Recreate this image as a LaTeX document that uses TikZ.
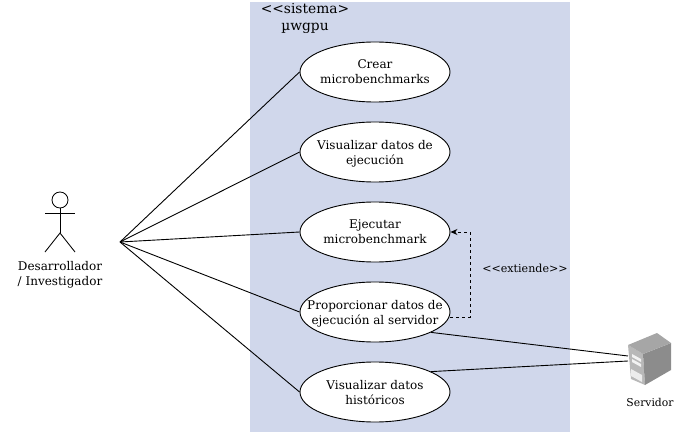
\documentclass[tikz,border=0pt]{standalone}
\usepackage{fontspec}
\setmainfont{DejaVu Serif}
\usetikzlibrary{shapes.geometric,arrows.meta}
\definecolor{sysblue}{RGB}{208,215,235}

\begin{document}
\begin{tikzpicture}[x=1pt,y=-1pt,
    usecase/.style={ellipse,draw,line width=0.9pt,fill=white,minimum width=150pt,minimum height=60pt,inner xsep=-30pt,inner ysep=-12pt,align=center,text depth=-2pt,font=\fontsize{12}{15}\selectfont},
    caption/.style={align=center,inner sep=0pt,font=\fontsize{12}{14.5}\selectfont},
    link/.style={line width=0.9pt},
    limb/.style={line width=0.85pt}]
    \useasboundingbox (0,0) rectangle (680,433);

    % System
    \fill[sysblue] (250,2) rectangle (570,432);
    \node[inner sep=0pt,align=center,font=\fontsize{13.8}{17}\selectfont] (sistema) at (305,18) {{<}{<}sistema>\\µwgpu};

    % Use cases
    \coordinate (hub) at (120,242);
    \node[usecase] (crear) at (375,72) {Crear\\microbenchmarks};
    \node[usecase] (visualizar) at (375,152) {Visualizar datos de\\ejecución};
    \node[usecase] (ejecutar) at (375,232) {Ejecutar\\microbenchmark};
    \node[usecase] (proporcionar) at (375,312) {Proporcionar datos de\\ejecución al servidor};
    \node[usecase] (historicos) at (375,392) {Visualizar datos\\históricos};
    \foreach \uc in {crear,visualizar,ejecutar,proporcionar,historicos}
        \draw[link] (hub) -- (\uc.west);

    % Actor
    \node[circle,draw,limb,minimum size=16pt,inner sep=0pt] (head) at (60,200) {};
    \coordinate (hip) at (60,233);
    \draw[limb] (head.south) -- (hip);
    \draw[limb] (45,213) -- (75,213);
    \draw[limb] (45,252) -- (hip) -- (75,252);
    \node[caption] (actor) at (60,275) {Desarrollador\\ / Investigador};

    % Server
    \coordinate (srvtop) at (628,356);
    \coordinate (srvbot) at (628,361);
    \fill[black!28] (628,345) -- (643,354) -- (645,385) -- (631,379) -- cycle;
    \fill[black!45] (643,354) -- (671,343) -- (671,370) -- (645,385) -- cycle;
    \fill[black!35] (628,345) -- (657,333) -- (671,343) -- (643,354) -- cycle;
    \fill[white!90!gray] (632,354) -- (641,359) -- (641,362) -- (632,357) -- cycle;
    \fill[white!90!gray] (632,359) -- (641,364) -- (641,367) -- (632,362) -- cycle;
    \fill[white!85!gray] (631,369) -- (642,375) -- (642,382) -- (631,376) -- cycle;
    \node[caption,font=\fontsize{10.8}{13}\selectfont] (servidor) at (650,402) {Servidor};
    \draw[link] (proporcionar.-20) -- (srvtop);
    \draw[link] (historicos.20) -- (srvbot);

    % Extends
    \coordinate (bend) at (470,317);
    \draw[dashed,line width=0.8pt,-{Stealth[length=7pt,width=6pt]}] (proporcionar.east |- bend) -- (bend) |- (ejecutar.east);
    \node[caption,font=\fontsize{11.1}{13}\selectfont] (extiende) at (525,268) {{<}{<}extiende>{>}};
\end{tikzpicture}
\end{document}
